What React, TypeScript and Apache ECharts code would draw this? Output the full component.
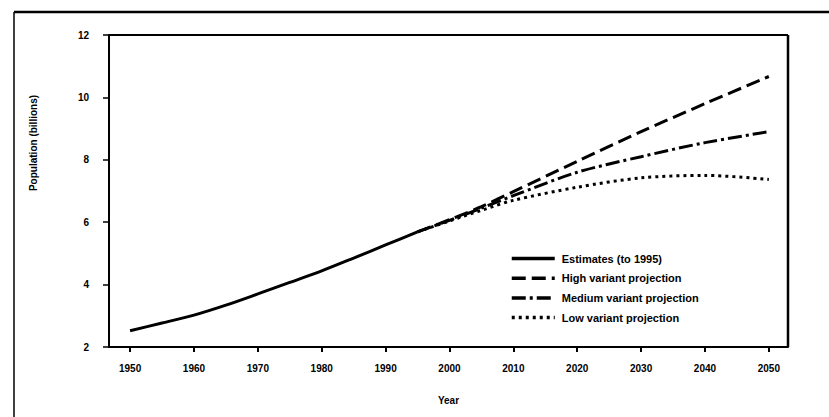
import React, { useEffect, useRef } from "react";
import * as echarts from "echarts";

const yearTicks = [1950, 1960, 1970, 1980, 1990, 2000, 2010, 2020, 2030, 2040, 2050];

const estimates: [number, number][] = [
  [1950, 2.52], [1955, 2.77], [1960, 3.02], [1965, 3.34], [1970, 3.7],
  [1975, 4.07], [1980, 4.44], [1985, 4.85], [1990, 5.27], [1995, 5.69],
];
const highVariant: [number, number][] = [
  [1995, 5.69], [2000, 6.08], [2005, 6.5], [2010, 6.98], [2020, 7.95],
  [2030, 8.9], [2040, 9.8], [2050, 10.67],
];
const mediumVariant: [number, number][] = [
  [1995, 5.69], [2000, 6.06], [2005, 6.45], [2010, 6.85], [2020, 7.6],
  [2030, 8.1], [2040, 8.55], [2050, 8.9],
];
const lowVariant: [number, number][] = [
  [1995, 5.69], [2000, 6.04], [2005, 6.38], [2010, 6.7], [2020, 7.12],
  [2030, 7.42], [2040, 7.5], [2050, 7.37],
];

const seriesNames = [
  "Estimates (to 1995)",
  "High variant projection",
  "Medium variant projection",
  "Low variant projection",
];

const FONT = "Liberation Sans, Arial, sans-serif";

export default function App() {
  const ref = useRef<HTMLDivElement>(null);
  useEffect(() => {
    if (!ref.current) return;
    const chart = echarts.init(ref.current, null, { renderer: "svg" });
    const mk = (name: string, data: [number, number][], type: any) => ({
      name,
      type: "line",
      data,
      smooth: 0.3,
      symbol: "none",
      lineStyle: { color: "#000", width: 3, type },
      itemStyle: { color: "#000" },
    });
    chart.setOption({
      animation: false,
      backgroundColor: "#fff",
      grid: { left: 109, top: 35, right: 41, bottom: 70, show: false },
      xAxis: {
        type: "value",
        min: 1946.7,
        max: 2053,
        name: "Year",
        nameLocation: "middle",
        nameGap: 48,
        nameTextStyle: { color: "#000", fontSize: 10, fontWeight: "bold", fontFamily: FONT },
        axisLine: { show: true, lineStyle: { color: "#000", width: 2 } },
        axisTick: { show: true, length: 5, customValues: yearTicks, lineStyle: { color: "#000", width: 2 } },
        axisLabel: {
          customValues: yearTicks,
          formatter: (v: number) => String(v),
          color: "#000",
          fontSize: 10,
          fontWeight: "bold",
          fontFamily: FONT,
          margin: 16,
        },
        splitLine: { show: false },
      },
      yAxis: {
        type: "value",
        min: 2,
        max: 12,
        interval: 2,
        axisLine: { show: true, lineStyle: { color: "#000", width: 2 } },
        axisTick: { show: true, length: 6, lineStyle: { color: "#000", width: 1.5 } },
        axisLabel: {
          color: "#000",
          fontSize: 10,
          fontWeight: "bold",
          fontFamily: FONT,
          margin: 20,
        },
        splitLine: { show: false },
      },
      legend: {
        orient: "vertical",
        left: 505,
        top: 248,
        itemWidth: 43,
        itemHeight: 10,
        itemGap: 8.7,
        itemStyle: { opacity: 0 },
        lineStyle: { width: 3.5 },
        textStyle: { color: "#000", fontSize: 11, fontWeight: "bold", fontFamily: FONT, padding: [0, 0, 0, 2] },
        data: seriesNames,
      },
      graphic: [
        { type: "line", shape: { x1: 14, y1: 12, x2: 829, y2: 12 }, style: { stroke: "#000", lineWidth: 2.5 } },
        { type: "line", shape: { x1: 14, y1: 12, x2: 14, y2: 417 }, style: { stroke: "#000", lineWidth: 1.5 } },
        { type: "line", shape: { x1: 109, y1: 35, x2: 788, y2: 35 }, style: { stroke: "#000", lineWidth: 2 } },
        { type: "line", shape: { x1: 788, y1: 35, x2: 788, y2: 347 }, style: { stroke: "#000", lineWidth: 2.5 } },
        {
          type: "text",
          x: 33,
          y: 143,
          rotation: Math.PI / 2,
          style: {
            text: "Population (billions)",
            fill: "#000",
            font: `bold 10px ${FONT}`,
            align: "center",
            verticalAlign: "middle",
          },
        },
      ],
      series: [
        mk(seriesNames[0], estimates, "solid"),
        mk(seriesNames[1], highVariant, [14, 6]),
        mk(seriesNames[2], mediumVariant, [14, 4, 3, 4]),
        mk(seriesNames[3], lowVariant, [3, 4]),
      ],
    });
    return () => chart.dispose();
  }, []);
  return <div ref={ref} style={{ width: 829, height: 417, position: "absolute", left: 0, top: 0 }} />;
}
